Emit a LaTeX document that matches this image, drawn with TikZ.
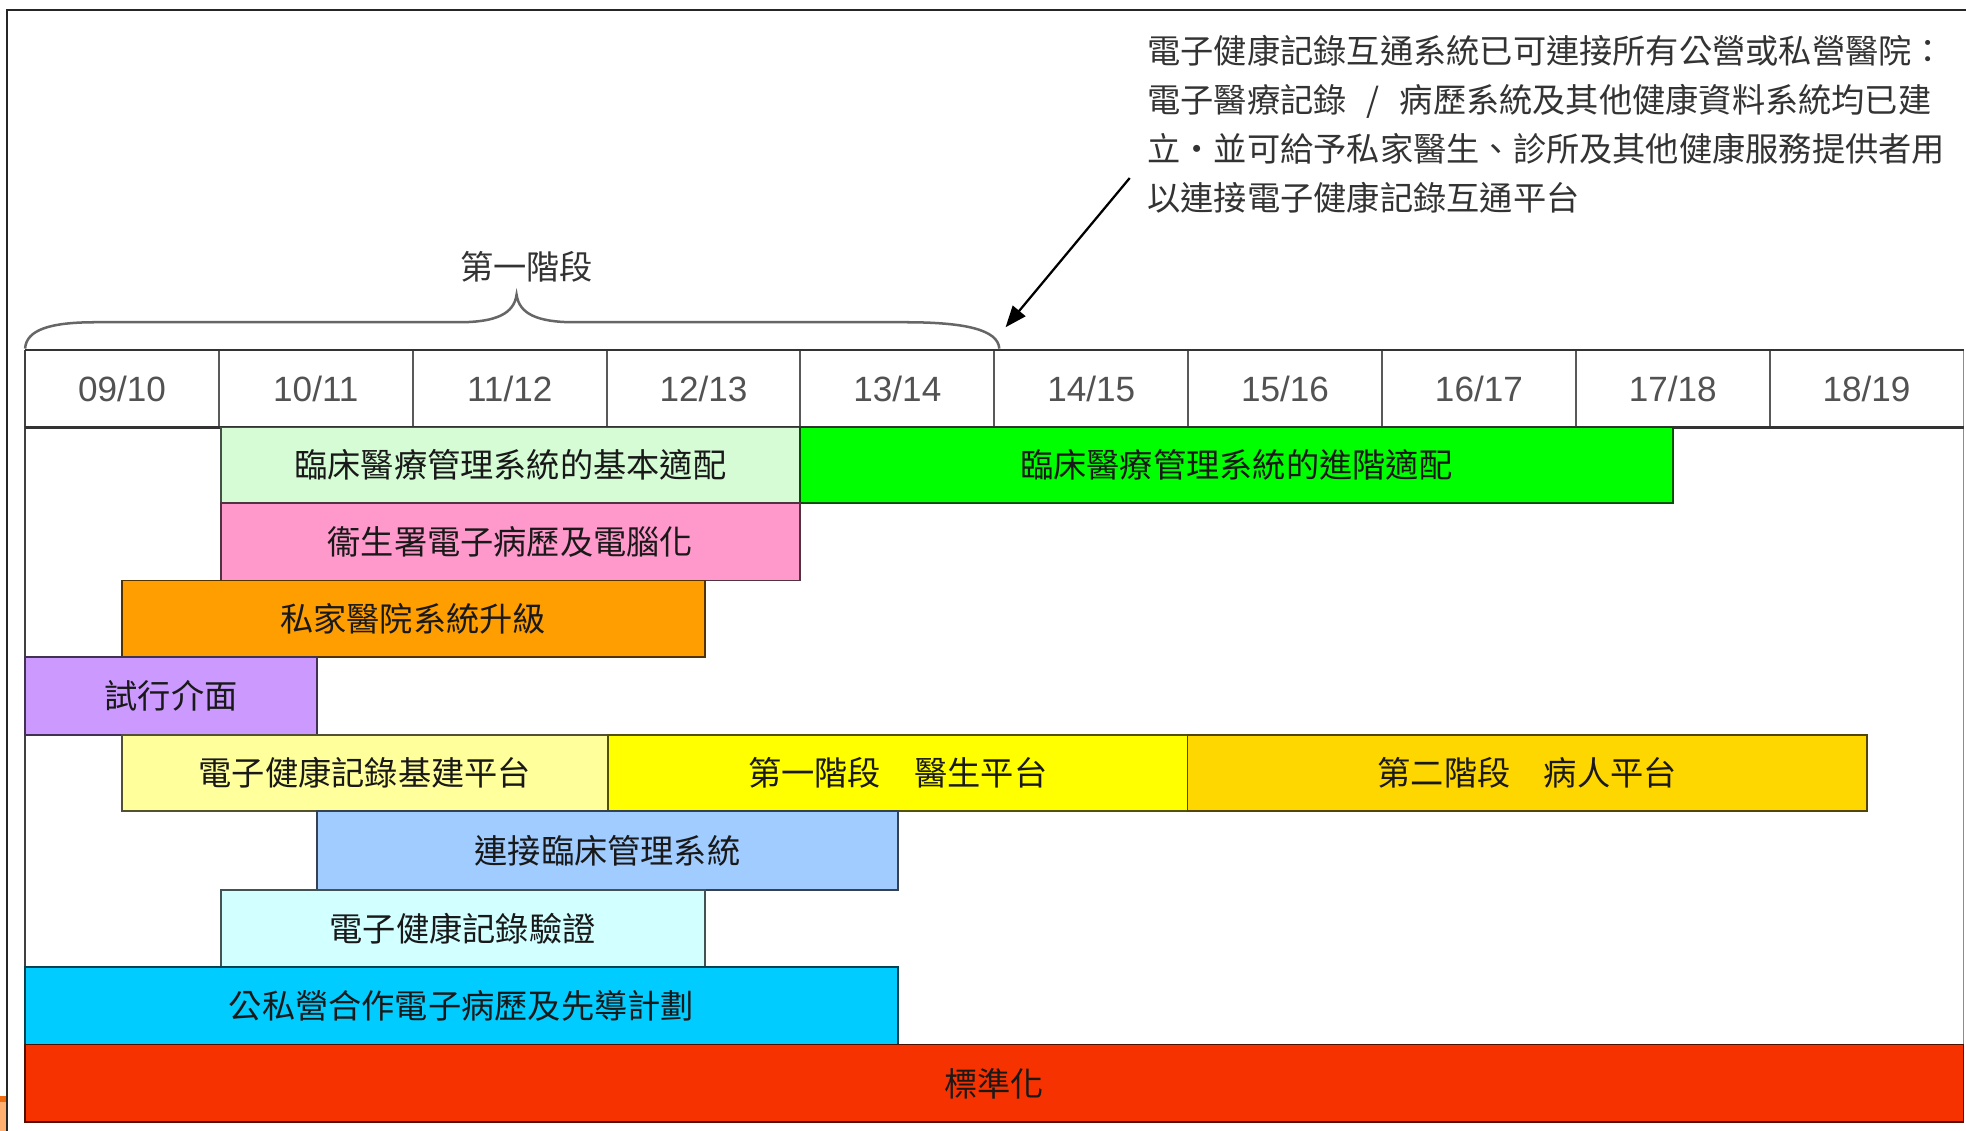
\documentclass[tikz,border=0pt]{standalone}
\usepackage{fontspec}
\setmainfont{Liberation Sans}
\newfontfamily\cjk{Noto Sans CJK TC}
\usetikzlibrary{arrows.meta}
\definecolor{cLgreen}{HTML}{D6FCD6}
\definecolor{cGreen}{HTML}{00FF00}
\definecolor{cPink}{HTML}{FF99CC}
\definecolor{cOrange}{HTML}{FF9E00}
\definecolor{cLav}{HTML}{CC99FF}
\definecolor{cLyellow}{HTML}{FFFF9C}
\definecolor{cYellow}{HTML}{FFFF00}
\definecolor{cGold}{HTML}{FFD700}
\definecolor{cLblue}{HTML}{A0CCFF}
\definecolor{cLcyan}{HTML}{D2FFFF}
\definecolor{cCyan}{HTML}{00CCFF}
\definecolor{cRed}{HTML}{F63300}
\definecolor{cArt}{HTML}{FFB070}
\definecolor{cArtTop}{HTML}{F06A10}
\newcommand\gbar[7]{\node[barbox=#6, minimum width={(#4-#2)*1pt}, minimum height={(#5-#3)*1pt}] (#1) at (#2,#3) {#7};}
\begin{document}
\begin{tikzpicture}[x=1pt,y=-1pt,
  barbox/.style={draw=#1!32!black, fill=#1, line width=1.4pt, inner sep=0pt, outer sep=0pt,
    anchor=north west, text=black!90, font=\cjk\fontsize{26.5}{30}\selectfont},
  hdrlab/.style={inner sep=0pt, text=black!68, font=\fontsize{28}{32}\selectfont},
  hline/.style={draw=black!80, line width=2pt},
  vline/.style={draw=black!65, line width=1.6pt},
  bracestyle/.style={draw=black!60, line width=2pt},
  note/.style={inner sep=0pt, align=left, text=black!80, font=\cjk\fontsize{26.5}{39}\selectfont},
  plabel/.style={inner sep=0pt, text=black!80, font=\cjk\fontsize{26.5}{30}\selectfont},
  pointer/.style={draw=black, line width=1.8pt, -{Triangle[length=17pt,width=13pt]}}]
\useasboundingbox (0,0) rectangle (1568,902);
\fill[white] (0,0) rectangle (1568,902);
% outer frame (cropped)
\draw[draw=black!85, line width=1.6pt] (5.5,902) -- (5.5,8) -- (1568,8);
% artifact bottom-left
\fill[cArt] (0,878) rectangle (4.6,902);
\fill[cArtTop] (0,874) rectangle (4.6,879);
% table frame
\draw[draw=black!75, line width=1.6pt] (20,279) -- (20,895);
\draw[draw=black!45, line width=1.4pt] (1566,279) -- (1566,895);
\foreach \k in {1,...,9} \draw[vline] ({20+154.6*\k},279) -- ({20+154.6*\k},341);
\draw[hline] (20,279) -- (1566,279);
\draw[hline] (20,341) -- (1566,341);
% header labels
\foreach \lab [count=\i from 0] in {09/10,10/11,11/12,12/13,13/14,14/15,15/16,16/17,17/18,18/19}
  \node[hdrlab] (h\i) at ({20+154.6*(\i+0.5)},310) {\lab};
% bars
\gbar{r1a}{176}{341}{638}{401}{cLgreen}{臨床醫療管理系統的基本適配}
\gbar{r1b}{638}{341}{1334}{401}{cGreen}{臨床醫療管理系統的進階適配}
\gbar{r2}{176}{401}{638}{463}{cPink}{衞生署電子病歷及電腦化}
\gbar{r3}{97}{463}{562}{524}{cOrange}{私家醫院系統升級}
\gbar{r4}{20}{524}{253}{586}{cLav}{試行介面}
\gbar{r5a}{97}{586}{485}{647}{cLyellow}{電子健康記錄基建平台}
\gbar{r5b}{485}{586}{947}{647}{cYellow}{第一階段　醫生平台}
\gbar{r5c}{947}{586}{1489}{647}{cGold}{第二階段　病人平台}
\gbar{r6}{253}{647}{716}{710}{cLblue}{連接臨床管理系統}
\gbar{r7}{176}{710}{562}{771}{cLcyan}{電子健康記錄驗證}
\gbar{r8}{20}{771}{716}{833}{cCyan}{公私營合作電子病歷及先導計劃}
\gbar{r9}{20}{833}{1566}{895}{cRed}{標準化}
% brace
\draw[bracestyle] (20,278) .. controls (21,263) and (40,257) .. (76,257) -- (366,257)
  .. controls (396,257) and (410,250) .. (412,235)
  .. controls (414,250) and (428,257) .. (458,257) -- (722,257)
  .. controls (770,257) and (796,263) .. (797,278);
\node[plabel] (ph1) at (420,213) {第一階段};
% annotation
\node[note, anchor=north west] (note) at (915,28) {電子健康記錄互通系統已可連接所有公營或私營醫院：\\電子醫療記錄\hspace{0.6em}/\hspace{0.6em}病歷系統及其他健康資料系統均已建\\立・並可給予私家醫生、診所及其他健康服務提供者用\\以連接電子健康記錄互通平台};
\coordinate (arrS) at (901,142);
\coordinate (arrE) at (802,261);
\draw[pointer] (arrS) -- (arrE);
\end{tikzpicture}
\end{document}
